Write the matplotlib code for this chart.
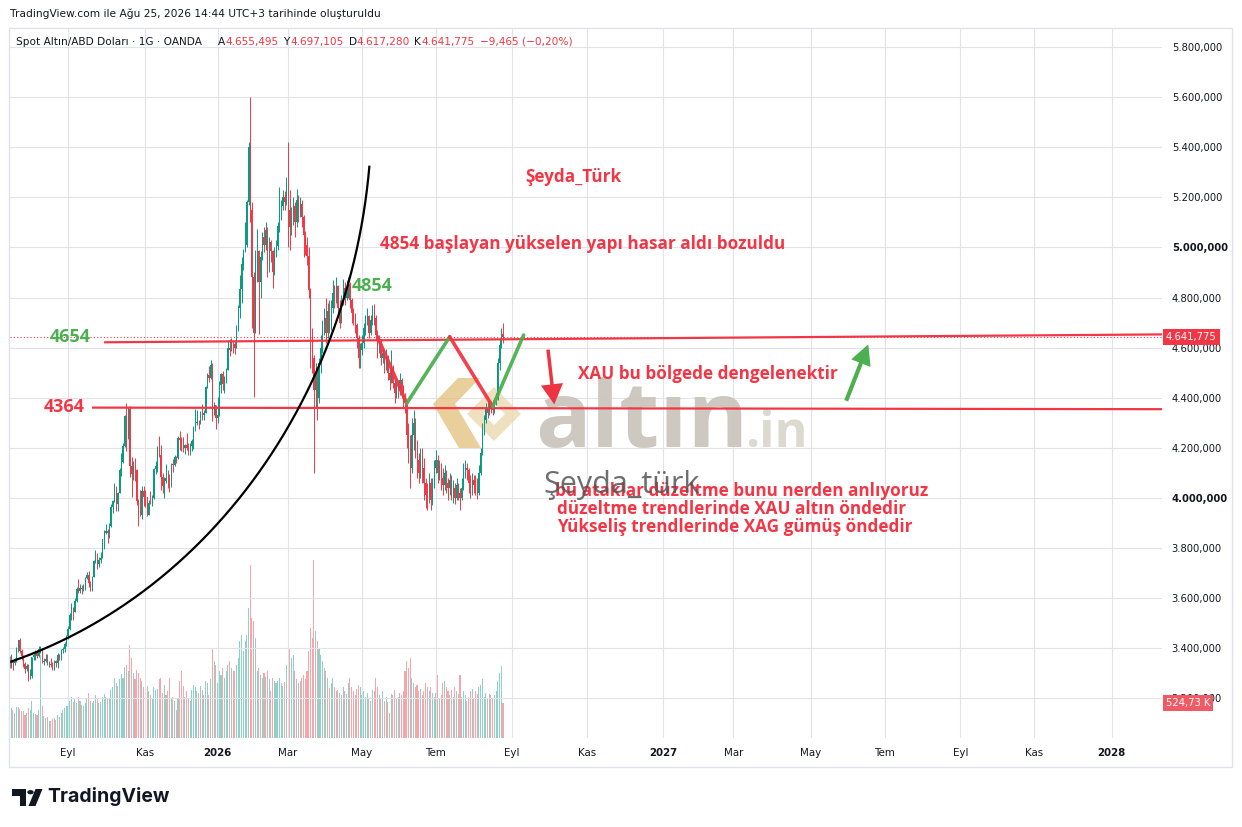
import numpy as np
import pandas as pd
import matplotlib
matplotlib.use("Agg")
import matplotlib.pyplot as plt
import matplotlib.transforms as mtransforms
from matplotlib.patches import Rectangle, Polygon, Circle, FancyArrowPatch, PathPatch
from matplotlib.path import Path

# ------------------------------------------------------------------ data
first_day = "2025-07-15"
last_day = "2026-08-25"
closed_days = ["2025-12-25", "2026-01-01", "2026-04-03"]
first_open = 3343.0
last_open = 4655.495

closes = [
    3325, 3347, 3338, 3350, 3397, 3431, 3387, 3368, 3337, 3314, 3326, 3274, 3289,
    3363, 3373, 3381, 3368, 3397, 3398, 3342, 3348, 3356, 3336, 3336, 3332, 3315, 3347, 3339, 3371, 3365, 3393, 3397, 3416, 3448,
    3476, 3533, 3559, 3545, 3587, 3636, 3626, 3641, 3634, 3643, 3679, 3690, 3660, 3644, 3685, 3746, 3764, 3735, 3749, 3760, 3833, 3858,
    3866, 3857, 3886, 3961, 3985, 4040, 3975, 4017, 4110, 4143, 4208, 4326, 4251, 4356, 4125, 4095, 4126, 4112, 3987, 3952, 3930, 4025, 4002,
    4001, 3932, 3980, 3977, 4000, 4115, 4128, 4195, 4171, 4083, 4045, 4066, 4078, 4077, 4065, 4134, 4131, 4163, 4157, 4239,
    4232, 4205, 4200, 4209, 4198, 4189, 4208, 4228, 4279, 4300, 4304, 4302, 4339, 4332, 4340, 4444, 4490, 4478, 4532, 4332, 4370, 4318,
    4330, 4450, 4495, 4455, 4478, 4510, 4598, 4590, 4625, 4615, 4598, 4672, 4760, 4835, 4935, 4985, 5010, 5180, 5400, 5150, 4880,
    4660, 4940, 4985, 4860, 4960, 5040, 5010, 5070, 4920, 5020, 4985, 4900, 4985, 5005, 5085, 5140, 5165, 5200, 5180, 5250,
    5150, 5080, 5130, 5165, 5100, 5190, 5140, 5175, 5120, 5050, 5010, 4965, 4830, 4640, 4560, 4430, 4490, 4400, 4540, 4600, 4690, 4720,
    4660, 4745, 4680, 4760, 4820, 4795, 4845, 4760, 4700, 4780, 4840, 4800, 4830, 4855, 4790, 4740, 4720, 4690, 4640, 4560, 4590,
    4620, 4680, 4705, 4725, 4660, 4710, 4745, 4720, 4650, 4600, 4620, 4560, 4580, 4530, 4560, 4500, 4470, 4520, 4460, 4420, 4450,
    4430, 4470, 4440, 4400, 4380, 4250, 4200, 4120, 4250, 4300, 4200, 4150, 4100, 4160, 4120, 4060, 4010, 4000, 4060, 3990, 4060, 4120,
    4150, 4100, 4120, 4080, 4050, 4100, 4060, 4040, 4070, 4020, 4040, 4000, 4050, 4020, 4000, 4040, 4100, 4120, 4110, 4060, 4040, 4070, 4050,
    4040, 4020, 4100, 4180, 4280, 4310, 4360, 4340, 4370, 4360, 4350, 4380, 4400, 4540, 4610, 4651.24, 4641.775,
]
highs = [
    3366, 3377, 3345, 3361, 3402, 3433, 3438, 3394, 3373, 3345, 3334, 3334, 3315,
    3363, 3385, 3390, 3392, 3409, 3409, 3400, 3358, 3374, 3375, 3346, 3358, 3345, 3351, 3350, 3378, 3376, 3394, 3404, 3424, 3453,
    3489, 3540, 3578, 3563, 3600, 3642, 3674, 3657, 3650, 3655, 3685, 3703, 3707, 3667, 3686, 3749, 3791, 3778, 3761, 3783, 3835, 3872,
    3895, 3875, 3897, 3975, 3991, 4059, 4045, 4022, 4117, 4180, 4218, 4330, 4380, 4362, 4365, 4161, 4147, 4160, 4113, 3996, 4030, 4046, 4046,
    4030, 4003, 3990, 4028, 4010, 4120, 4148, 4208, 4245, 4211, 4099, 4082, 4133, 4110, 4096, 4138, 4156, 4170, 4167, 4245,
    4265, 4241, 4241, 4213, 4260, 4218, 4218, 4235, 4285, 4354, 4350, 4310, 4345, 4375, 4350, 4445, 4498, 4525, 4550, 4540, 4384, 4372,
    4402, 4465, 4500, 4505, 4485, 4520, 4630, 4635, 4640, 4628, 4625, 4690, 4770, 4890, 4960, 4995, 5100, 5190, 5420, 5602, 5180,
    4900, 4990, 5075, 4990, 4985, 5060, 5080, 5100, 5080, 5040, 5030, 4990, 5000, 5030, 5100, 5240, 5190, 5230, 5225, 5280,
    5420, 5230, 5160, 5200, 5180, 5235, 5210, 5200, 5190, 5130, 5065, 5040, 5000, 4840, 4680, 4570, 4540, 4520, 4560, 4650, 4710, 4760,
    4800, 4780, 4790, 4790, 4870, 4850, 4880, 4850, 4790, 4810, 4875, 4860, 4870, 4880, 4860, 4800, 4760, 4740, 4700, 4650, 4620,
    4650, 4700, 4730, 4760, 4730, 4730, 4770, 4775, 4730, 4670, 4650, 4630, 4600, 4590, 4595, 4570, 4520, 4590, 4530, 4480, 4470,
    4470, 4500, 4480, 4450, 4420, 4390, 4300, 4250, 4320, 4350, 4320, 4230, 4180, 4200, 4200, 4160, 4080, 4060, 4100, 4080, 4080, 4150,
    4190, 4170, 4150, 4140, 4120, 4130, 4110, 4080, 4100, 4090, 4070, 4060, 4080, 4060, 4040, 4080, 4140, 4150, 4140, 4120, 4090, 4100, 4090,
    4090, 4080, 4130, 4200, 4300, 4330, 4380, 4385, 4390, 4385, 4390, 4400, 4420, 4560, 4640, 4680, 4697.105,
]
lows = [
    3320, 3319, 3310, 3332, 3345, 3383, 3381, 3351, 3325, 3301, 3308, 3268, 3282,
    3281, 3350, 3353, 3358, 3365, 3380, 3341, 3332, 3342, 3330, 3324, 3323, 3312, 3312, 3324, 3321, 3351, 3351, 3378, 3385, 3408,
    3436, 3470, 3511, 3511, 3543, 3585, 3620, 3620, 3614, 3628, 3633, 3675, 3645, 3628, 3628, 3684, 3740, 3717, 3722, 3740, 3759, 3793,
    3853, 3820, 3839, 3883, 3940, 3983, 3945, 3947, 4017, 4085, 4137, 4204, 4186, 4233, 4082, 4004, 4071, 4066, 3971, 3886, 3928, 3915, 3968,
    3962, 3928, 3930, 3973, 3965, 3995, 4093, 4103, 4164, 4032, 4019, 4000, 4058, 4039, 4022, 4041, 4101, 4125, 4138, 4155,
    4191, 4185, 4183, 4175, 4190, 4170, 4170, 4188, 4196, 4267, 4290, 4275, 4296, 4310, 4309, 4340, 4440, 4462, 4476, 4305, 4330, 4274,
    4300, 4325, 4420, 4430, 4420, 4460, 4540, 4565, 4585, 4580, 4575, 4600, 4665, 4720, 4780, 4910, 4980, 5000, 5170, 5100, 4680,
    4403, 4660, 4860, 4655, 4800, 4950, 4980, 4990, 4880, 4900, 4940, 4840, 4890, 4960, 4990, 5060, 5110, 5150, 5150, 5170,
    5000, 4990, 5050, 5090, 5040, 5080, 5100, 5120, 5080, 4960, 4970, 4930, 4800, 4520, 4500, 4097, 4360, 4310, 4380, 4500, 4580, 4650,
    4620, 4640, 4660, 4670, 4740, 4760, 4780, 4740, 4680, 4700, 4770, 4770, 4790, 4800, 4760, 4700, 4690, 4660, 4600, 4520, 4520,
    4570, 4600, 4650, 4690, 4640, 4650, 4690, 4690, 4630, 4560, 4580, 4530, 4540, 4500, 4510, 4470, 4430, 4460, 4440, 4380, 4400,
    4400, 4410, 4400, 4360, 4340, 4200, 4140, 4040, 4100, 4190, 4160, 4080, 4060, 4080, 4060, 3990, 3960, 3950, 3980, 3950, 3970, 4040,
    4100, 4060, 4070, 4030, 4010, 4030, 4020, 3990, 4010, 3990, 3980, 3975, 3990, 3990, 3950, 3990, 4030, 4080, 4070, 4020, 4000, 4010, 4020,
    4010, 3995, 4010, 4090, 4170, 4250, 4300, 4320, 4330, 4340, 4330, 4340, 4370, 4390, 4510, 4600, 4617.28,
]
volumes_k = [
    430, 450, 420, 380, 460, 470, 440, 410, 400, 350, 380, 450, 420,
    560, 380, 360, 340, 420, 1250, 480, 330, 300, 310, 260, 250, 280, 300, 270, 350, 320, 380, 420, 450, 480,
    480, 560, 620, 540, 600, 520, 620, 560, 500, 480, 520, 600, 680, 560, 520, 560, 640, 600, 520, 540, 620, 660,
    620, 580, 600, 720, 760, 900, 820, 780, 880, 960, 900, 1060, 1100, 1000, 1400, 1200, 980, 880, 1020, 980, 900, 860, 760,
    700, 780, 700, 640, 600, 760, 720, 740, 880, 900, 680, 800, 640, 700, 900, 580, 620, 560, 420, 600,
    860, 1000, 780, 620, 700, 600, 560, 720, 800, 760, 700, 680, 780, 720, 640, 860, 820, 640, 880, 1350, 1150, 1100,
    820, 1000, 950, 1050, 900, 1000, 1100, 1150, 1050, 1000, 1000, 1100, 1200, 1450, 1550, 1300, 1450, 1550, 1950, 2600, 1800,
    1750, 1500, 1000, 1050, 950, 900, 980, 920, 1000, 880, 700, 900, 850, 820, 860, 900, 820, 780, 840, 1100,
    1580, 1350, 1200, 1250, 1000, 880, 820, 860, 900, 950, 880, 1000, 1300, 1650, 1500, 2670, 1600, 1450, 1350, 1250, 1150, 1050,
    1000, 900, 750, 820, 900, 760, 700, 720, 680, 640, 760, 700, 660, 820, 900, 760, 700, 640, 740, 800, 760,
    640, 700, 620, 680, 600, 560, 720, 700, 900, 760, 640, 600, 700, 560, 620, 540, 380, 660, 640, 720, 600,
    620, 680, 640, 700, 1000, 1150, 1050, 1200, 900, 820, 760, 800, 700, 740, 640, 700, 820, 760, 700, 760, 680, 620,
    680, 940, 600, 640, 820, 860, 760, 700, 640, 720, 620, 760, 700, 660, 940, 620, 700, 640, 560, 620, 700, 740, 600,
    700, 660, 760, 800, 880, 620, 680, 600, 660, 640, 580, 640, 700, 860, 980, 1080, 524.73,
]

price_ticks = [3200, 3400, 3600, 3800, 4000, 4200, 4400, 4600, 4800, 5000, 5200, 5400, 5600, 5800]
bold_prices = [4000, 5000]
month_ticks = ["2025-09-01", "2025-11-01", "2026-01-01", "2026-03-01", "2026-05-01", "2026-07-01",
               "2026-09-01", "2026-11-01", "2027-01-01", "2027-03-01", "2027-05-01", "2027-07-01",
               "2027-09-01", "2027-11-01", "2028-01-01"]
month_labels = ["Eyl", "Kas", "2026", "Mar", "May", "Tem", "Eyl", "Kas", "2027", "Mar", "May", "Tem",
                "Eyl", "Kas", "2028"]
year_labels = ["2026", "2027", "2028"]

# drawings (anchored in date / price)
upper_level = [("2025-09-30", 4621.0), ("2028-01-03", 4651.0)]
lower_level = [("2025-09-19", 4360.0), ("2028-01-03", 4354.0)]
arc_dates = ["2025-07-16", "2025-09-01", "2025-11-03", "2025-12-17", "2026-01-21", "2026-03-11",
             "2026-03-25", "2026-04-06", "2026-04-20", "2026-05-04", "2026-05-08"]
arc_prices = [3339, 3451, 3643, 3803, 4003, 4362, 4510, 4642, 4842, 5162, 5322]
zig_dates = ["2026-05-14", "2026-06-08", "2026-07-13", "2026-08-17", "2026-09-10"]
zig_prices = [4643, 4377, 4643, 4364, 4650]
arrow_down = [("2026-09-30", 4603), ("2026-10-06", 4362)]
arrow_up = [("2027-05-31", 4377), ("2027-06-18", 4623)]

# ------------------------------------------------------------------ layout / style
W, H = 1242, 827
L, R, T, B = 10, 1162, 28, 738
first_bar_px, bar_px = 9.5, 1.7195
price_lim = (3039.6, 5877.1)
vol_top = 10640.0
RED = "#f23645"
GREEN_C = "#089981"
GREEN_D = "#4caf50"
TXT = "#131722"
GRID = "#e1e3e8"

past_days = pd.bdate_range(first_day, last_day)
past_days = past_days[~past_days.isin(pd.to_datetime(closed_days))]
future_days = pd.bdate_range("2026-08-26", "2028-06-30")
all_days = past_days.append(future_days)


def xi(d):
    return float(all_days.searchsorted(pd.Timestamp(d)))


n = min(len(past_days), len(closes), len(highs), len(lows), len(volumes_k))
c = np.array(closes[:n], float)
o = np.empty(n)
o[0] = first_open
o[1:] = c[:-1]
o[-1] = last_open
h = np.maximum(np.array(highs[:n], float), np.maximum(o, c))
lo = np.minimum(np.array(lows[:n], float), np.minimum(o, c))
v = np.array(volumes_k[:n], float)
x = np.arange(n)
up = c >= o
cols = np.where(up, GREEN_C, RED)

fig = plt.figure(figsize=(W / 100, H / 100), dpi=100)
fig.patch.set_facecolor("white")
rect = [L / W, 1 - B / H, (R - L) / W, (B - T) / H]
axv = fig.add_axes(rect)
ax = fig.add_axes(rect, sharex=axv)
ax.patch.set_visible(False)
axv.set_facecolor("white")

xlim = ((L - first_bar_px) / bar_px, (R - first_bar_px) / bar_px)
ax.set_xlim(*xlim)
ax.set_ylim(*price_lim)
axv.set_ylim(0, vol_top)

for a in (ax, axv):
    for s in a.spines.values():
        s.set_visible(False)
axv.tick_params(left=False, right=False, labelleft=False, labelright=False,
                bottom=False, labelbottom=False)

# volume
axv.bar(x, v, width=0.62, color=cols, alpha=0.45, linewidth=0)

# grid + ticks
tick_pos = [xi(d) for d in month_ticks]
ax.set_xticks(tick_pos)
ax.set_xticklabels(month_labels)
ax.set_yticks(price_ticks)


def fmt_price(p):
    s = f"{p:,.3f}"
    return s.replace(",", "#").replace(".", ",").replace("#", ".")


ax.set_yticklabels([fmt_price(p) for p in price_ticks])
ax.yaxis.tick_right()
ax.tick_params(axis="y", length=0, pad=7, labelsize=7.2, labelcolor=TXT)
ax.tick_params(axis="x", length=0, pad=7, labelsize=7.4, labelcolor=TXT)
for lab, p in zip(ax.get_yticklabels(), price_ticks):
    if p in bold_prices:
        lab.set_fontweight("bold")
for lab, t in zip(ax.get_xticklabels(), month_labels):
    if t in year_labels:
        lab.set_fontweight("bold")
ax.grid(True, color=GRID, lw=0.8)
ax.set_axisbelow(True)


def fx(px):
    return px / W


def fy(py):
    return 1 - py / H


# watermark altın.in
ax.text(fx(535), fy(447), "altın", transform=fig.transFigure, fontsize=66.5, fontweight="bold",
        family="Open Sans", color="#c8c4bb", alpha=0.9, va="baseline", ha="left", zorder=1.5, clip_on=False)
ax.text(fx(745), fy(447), ".in", transform=fig.transFigure, fontsize=36, fontweight="bold",
        family="Open Sans", color="#d9d5ca", alpha=0.9, va="baseline", ha="left", zorder=1.5, clip_on=False)
gold1 = "#e2c07a"
gold2 = "#ecd9b0"
for pts, col in [([(433, 404), (458, 378), (480, 378), (455, 404)], gold1),
                 ([(433, 404), (455, 404), (481, 448), (459, 448)], gold1)]:
    ax.add_patch(Polygon([(fx(a), fy(b)) for a, b in pts], closed=True, transform=fig.transFigure,
                         fc=col, ec="none", alpha=0.75, zorder=1.6, clip_on=False))
cx, cy, ro, ri = 494, 414, 27, 11
outer = [(cx - ro, cy), (cx, cy - ro), (cx + ro, cy), (cx, cy + ro), (cx - ro, cy)]
inner = [(cx - ri, cy), (cx, cy + ri), (cx + ri, cy), (cx, cy - ri), (cx - ri, cy)]
verts = [(fx(a), fy(b)) for a, b in outer + inner]
codes = [Path.MOVETO] + [Path.LINETO] * 3 + [Path.CLOSEPOLY] + [Path.MOVETO] + [Path.LINETO] * 3 + [Path.CLOSEPOLY]
ax.add_patch(PathPatch(Path(verts, codes), transform=fig.transFigure, fc=gold2, ec="none",
                       alpha=0.8, zorder=1.6, clip_on=False))

# candles
ax.vlines(x, lo, h, colors=cols, lw=0.7, zorder=3)
ax.bar(x, np.maximum(np.abs(c - o), 1.5), bottom=np.minimum(o, c), width=0.6, color=cols,
       linewidth=0, zorder=3)

# last price dotted line
ax.axhline(c[-1], color=RED, lw=0.8, ls=(0, (1, 2)), zorder=2.5)


def ray(pts):
    (d1, p1), (d2, p2) = pts
    x1, x2 = xi(d1), xi(d2)
    xe = xlim[1] + 5
    pe = p1 + (p2 - p1) * (xe - x1) / (x2 - x1)
    return [x1, xe], [p1, pe]


for lv in (upper_level, lower_level):
    xs, ps = ray(lv)
    ax.plot(xs, ps, color=RED, lw=1.6, zorder=4, solid_capstyle="butt")

# arc: axis-aligned ellipse fitted through the read anchor points
ax_pts = np.array([xi(d) for d in arc_dates])
ap_pts = np.array(arc_prices, float)
uu = ax_pts / 100.0
ww = (ap_pts - 4000.0) / 1000.0
M = np.column_stack([uu ** 2, ww ** 2, uu, ww])
(A, C, D, E), *_ = np.linalg.lstsq(M, np.ones_like(uu), rcond=None)
uc, wc = -D / (2 * A), -E / (2 * C)
G = 1 + A * uc ** 2 + C * wc ** 2
au, aw = np.sqrt(G / A), np.sqrt(G / C)
th1 = np.arctan2((wc - ww[0]) / aw, (uu[0] - uc) / au)
th2 = np.arctan2((wc - ww[-1]) / aw, (uu[-1] - uc) / au)
th = np.linspace(th1, th2, 400)
arc_x = (uc + au * np.cos(th)) * 100.0
arc_p = (wc - aw * np.sin(th)) * 1000.0 + 4000.0
ax.plot(arc_x, arc_p, color="black", lw=1.6, zorder=4.5)

# zigzag
zx = [xi(d) for d in zig_dates]
for i in range(len(zx) - 1):
    ax.plot(zx[i:i + 2], zig_prices[i:i + 2], color=(RED if i % 2 == 0 else GREEN_D), lw=2.6,
            solid_capstyle="round", zorder=5, alpha=0.95)

# arrows
for pts, col, st in [(arrow_down, "#ee3440", "simple,head_width=1.6,head_length=1.45,tail_width=0.25"),
                     (arrow_up, GREEN_D, "simple,head_width=1.5,head_length=1.45,tail_width=0.3")]:
    (d1, p1), (d2, p2) = pts
    ax.add_patch(FancyArrowPatch((xi(d1), p1), (xi(d2), p2), arrowstyle=st, mutation_scale=10,
                                 color=col, lw=0, zorder=5.5))

AF = "Open Sans"


def ptext(px, py, s, color, size, weight="bold", va="center", alpha=1.0, family=AF, z=7):
    ax.text(fx(px), fy(py), s, transform=fig.transFigure, color=color, fontsize=size,
            fontweight=weight, family=family, va=va, ha="left", zorder=z, clip_on=False, alpha=alpha)


ptext(525, 177, "Şeyda_Türk", RED, 12.3)
ptext(380, 244, "4854 başlayan yükselen yapı hasar aldı bozuldu", RED, 12.3)
ptext(352, 286, "4854", GREEN_D, 13)
ptext(50, 337, "4654", GREEN_D, 13)
ptext(44, 407, "4364", RED, 13)
ptext(578, 374, "XAU bu bölgede dengelenektir", RED, 12.3)
ptext(555, 491, "bu ataklar düzeltme bunu nerden anlıyoruz", RED, 12.3)
ptext(557, 509, "düzeltme trendlerinde XAU altın öndedir", RED, 12.3)
ptext(557, 527, "Yükseliş trendlerinde XAG gümüş öndedir", RED, 12.3)
ptext(543, 493, "Şeyda_türk", "#555555", 22, weight="normal", va="baseline", alpha=0.85, z=8)

# price / volume labels on the right scale
blend_p = mtransforms.blended_transform_factory(ax.transAxes, ax.transData)
ax.text(1.0 + 4 / (R - L), c[-1], fmt_price(c[-1]), transform=blend_p, ha="left", va="center",
        color="white", fontsize=7.2, zorder=10, clip_on=False,
        bbox=dict(boxstyle="square,pad=0.3", fc=RED, ec="none"))
vol_lab = f"{v[-1]:.2f}".replace(".", ",") + " K"
fig.text(fx(R + 4), fy(B - v[-1] / vol_top * (B - T)), vol_lab, ha="left", va="center",
         color="white", fontsize=7.2, zorder=10,
         bbox=dict(boxstyle="square,pad=0.3", fc="#ef5a64", ec="none"))

# header texts
fig.text(fx(10), fy(14), "TradingView.com ile Ağu 25, 2026 14:44 UTC+3 tarihinde oluşturuldu",
         ha="left", va="center", fontsize=7.7, color=TXT)
legend_pieces = [("Spot Altın/ABD Doları · 1G · OANDA", 16, TXT), ("A", 218, TXT), ("4.655,495", 225, RED),
                 ("Y", 283, TXT), ("4.697,105", 290, RED), ("D", 349, TXT), ("4.617,280", 356, RED),
                 ("K", 414, TXT), ("4.641,775", 421, RED), ("−9,465 (−0,20%)", 480, RED)]
for s, px, col in legend_pieces:
    fig.text(fx(px), fy(42), s, ha="left", va="center", fontsize=7.6, color=col, zorder=9)

# chart frame
fig.add_artist(Rectangle((fx(9), fy(767)), (1232 - 9) / W, (767 - 28) / H, fill=False,
                         ec="#e0e3eb", lw=1.0, transform=fig.transFigure))

# TradingView logo
fig.add_artist(Polygon([(fx(a), fy(b)) for a, b in
                        [(12, 789), (26, 789), (26, 806), (19.5, 806), (19.5, 795.5), (12, 795.5)]],
                       closed=True, transform=fig.transFigure, fc=TXT, ec="none"))
fig.add_artist(Circle((fx(30.5), fy(792.2)), 3.2 / W, transform=fig.transFigure, fc=TXT, ec="none"))
fig.add_artist(Polygon([(fx(a), fy(b)) for a, b in [(35.5, 789), (42.5, 789), (35.5, 806), (28.5, 806)]],
                       closed=True, transform=fig.transFigure, fc=TXT, ec="none"))
fig.text(fx(47), fy(797), "TradingView", ha="left", va="center", fontsize=14, fontweight="bold",
         family="Inter", color=TXT)

fig.savefig("out.png", dpi=100, facecolor="white")
